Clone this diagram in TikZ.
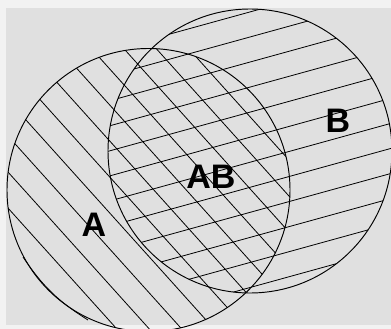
\documentclass[tikz,border=0pt]{standalone}
\usepackage{fontspec}
\setmainfont{Liberation Sans}
\definecolor{bgpaper}{HTML}{F2F2F2}
\definecolor{bggray}{HTML}{E0E0E0}
\tikzset{
  hatch/.style={line width=0.8pt, black},
  ring/.style={line width=0.95pt, black},
  setlabel/.style={font=\bfseries\fontsize{34}{40}\selectfont, text=black, inner sep=0pt}
}
\begin{document}
\begin{tikzpicture}[x=1pt,y=-1pt]
\useasboundingbox (0,0) rectangle (391,329);
\clip (0,0) rectangle (391,329);
\fill[bgpaper] (0,0) rectangle (391,329);
\fill[bggray] (6,8) rectangle (391,325);
\coordinate (cA) at (148.5,190);
\coordinate (cB) at (250,151);
% hatching of A
\begin{scope}
  \clip (cA) circle[radius=141.5pt];
  \foreach \k in {-2,...,8}{
    \pgfmathsetmacro\cc{-59.5+24.1*\k}
    \draw[hatch] ({-0.743*\cc-0.669*400},{0.669*\cc-0.743*400}) -- ({-0.743*\cc+0.669*400},{0.669*\cc+0.743*400});
  }
\end{scope}
\coordinate (a1) at (23,257);
\coordinate (a2) at (88,320);
\draw[hatch] (a1) to[bend right=12] (a2);
% hatching of B
\begin{scope}
  \clip (cB) circle[radius=142pt];
  \foreach \k in {0,...,11}{
    \pgfmathsetmacro\cc{78+24.15*\k}
    \draw[hatch] ({0.266*\cc-0.964*400},{0.964*\cc+0.266*400}) -- ({0.266*\cc+0.964*400},{0.964*\cc-0.266*400});
  }
\end{scope}
% circles
\draw[ring] (cA) circle[radius=141.5pt];
\draw[ring] (cB) circle[radius=142pt];
% labels
\node[setlabel] (labA) at (94,225) {A};
\node[setlabel] (labB) at (338,121) {B};
\node[setlabel] (labAB) at (211,177) {AB};
\end{tikzpicture}
\end{document}
